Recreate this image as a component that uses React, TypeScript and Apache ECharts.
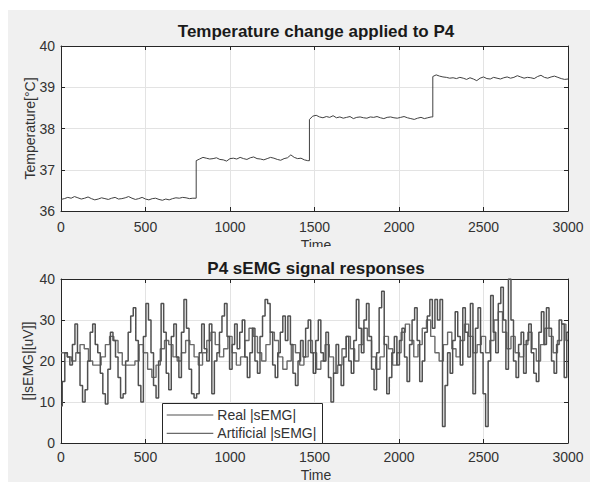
import React, { useEffect, useRef } from "react";
import * as echarts from "echarts";

// ---------- data ----------
const xTicks = [0, 500, 1000, 1500, 2000, 2500, 3000];
const tempTicks = [36, 37, 38, 39, 40];
const emgTicks = [0, 10, 20, 30, 40];

const TEMP_STEP = 20;
const tempSegmentStart = [0, 800, 1470, 2200];
const tempSeg1 = [
  36.28, 36.3, 36.33, 36.31, 36.35, 36.32, 36.29, 36.31, 36.34, 36.3,
  36.27, 36.29, 36.32, 36.3, 36.28, 36.31, 36.33, 36.29, 36.3, 36.32,
  36.35, 36.31, 36.28, 36.3, 36.33, 36.29, 36.27, 36.3, 36.31, 36.28,
  36.26, 36.29, 36.27, 36.3, 36.32, 36.31, 36.33, 36.32, 36.3, 36.31,
];
const tempSeg2 = [
  37.22, 37.26, 37.3, 37.28, 37.26, 37.27, 37.29, 37.25, 37.24, 37.21,
  37.27, 37.28, 37.26, 37.3, 37.27, 37.25, 37.29, 37.31, 37.27, 37.26,
  37.24, 37.27, 37.3, 37.28, 37.25, 37.23, 37.27, 37.29, 37.36, 37.3,
  37.27, 37.28, 37.24, 37.22,
];
const tempSeg3 = [
  38.22, 38.3, 38.32, 38.28, 38.26, 38.29, 38.27, 38.31, 38.26, 38.28,
  38.25, 38.27, 38.29, 38.24, 38.27, 38.28, 38.26, 38.25, 38.28, 38.27,
  38.29, 38.26, 38.24, 38.27, 38.28, 38.26, 38.25, 38.27, 38.29, 38.26,
  38.24, 38.22, 38.25, 38.27, 38.24, 38.26, 38.28,
];
const tempSeg4 = [
  39.26, 39.3, 39.27, 39.25, 39.24, 39.22, 39.23, 39.21, 39.24, 39.22,
  39.19, 39.23, 39.2, 39.16, 39.22, 39.25, 39.21, 39.2, 39.24, 39.22,
  39.2, 39.23, 39.25, 39.22, 39.24, 39.28, 39.25, 39.22, 39.24, 39.23,
  39.21, 39.26, 39.29, 39.24, 39.22, 39.25, 39.27, 39.24, 39.21, 39.19,
  39.2,
];
const tempSegments = [tempSeg1, tempSeg2, tempSeg3, tempSeg4];

const REAL_STEP = 15;
const realEmg = [
  9, 15, 22, 21, 19, 24, 29, 22, 14, 10,
  13, 20, 27, 29, 24, 22, 17, 12, 9.5, 18,
  27, 25, 21, 16, 11, 12, 20, 27, 31, 33,
  25, 14, 10, 26, 34, 30, 22, 14, 11, 20,
  34, 27, 17, 13, 26, 29, 21, 16, 27, 35,
  28, 18, 12, 11, 12, 22, 29, 23, 20, 29,
  12, 20, 22, 27, 31, 34, 26, 18, 24, 29,
  23, 27, 30, 21, 16, 22, 28, 20, 17, 26,
  31, 35, 34, 27, 19, 16, 22, 27, 31, 25,
  31, 24, 17, 14, 20, 25, 21, 28, 30, 22,
  17, 25, 30, 22, 20, 27, 16, 10, 17, 24,
  19, 14, 21, 26, 20, 17, 25, 35, 28, 22,
  30, 34, 26, 18, 13, 22, 33, 37, 24, 12,
  16, 22, 26, 19, 25, 28, 21, 15, 24, 30,
  33, 25, 15, 20, 27, 31, 35, 28, 35, 30,
  35, 4, 14, 22, 17, 25, 32, 26, 19, 33,
  27, 21, 34, 12, 28, 33, 22, 12, 4, 20,
  36, 27, 22, 34, 38, 30, 18, 40, 30, 20,
  16, 24, 27, 17, 25, 29, 22, 17, 15, 27,
  32, 24, 33, 28, 20, 17, 24, 30, 29, 16,
  27,
];

const ART_STEP = 25;
const artificialEmg = [
  22, 22, 21, 20, 22, 24, 23, 20, 19, 19,
  21, 24, 26, 25, 22, 19, 19, 19, 20, 24,
  22, 18, 16, 19, 23, 25, 24, 21, 20, 22,
  25, 24, 21, 19, 22, 25, 27, 24, 21, 23,
  26, 22, 19, 21, 25, 28, 26, 22, 20, 24,
  27, 25, 21, 18, 20, 24, 22, 19, 21, 25,
  22, 18, 20, 24, 21, 17, 19, 23, 26, 23,
  20, 24, 28, 25, 21, 18, 21, 26, 23, 19,
  22, 27, 29, 25, 21, 24, 28, 30, 26, 22,
  20, 24, 27, 23, 21, 25, 29, 26, 22, 24,
  26, 22, 25, 30, 32, 27, 23, 26, 22, 21,
  24, 27, 23, 20, 24, 28, 26, 22, 25, 29,
  25,
];

const legendNames = ["Real |sEMG|", "Artificial |sEMG|"];

// ---------- build ----------
function buildTemp(): [number, number][] {
  const out: [number, number][] = [];
  tempSegments.forEach((seg, k) => {
    const start = tempSegmentStart[k];
    seg.forEach((v, i) => out.push([start + i * TEMP_STEP, v]));
    if (k + 1 < tempSegments.length) {
      out.push([tempSegmentStart[k + 1], seg[seg.length - 1]]);
    }
  });
  return out;
}
const realData = realEmg.map((v, i) => [i * REAL_STEP, v]);
const artData = artificialEmg.map((v, i) => [i * ART_STEP, v]);

const FAMILY = "Liberation Sans";
const FONT = "'Liberation Sans', Arial, sans-serif";
const AX = "#262626";
const TXT = "#333333";
const GRIDC = "#e3e3e3";
const plain = (v: number) => String(v);

function xAxes(grid: number, labelMargin: number) {
  return [
    {
      type: "value",
      gridIndex: grid,
      position: "bottom",
      min: xTicks[0],
      max: xTicks[xTicks.length - 1],
      interval: 500,
      axisLine: { show: true, onZero: false, lineStyle: { color: AX, width: 1 } },
      axisTick: { show: true, inside: true, length: 4, lineStyle: { color: AX } },
      axisLabel: {
        color: TXT,
        fontSize: 14,
        lineHeight: 14,
        fontFamily: FAMILY,
        margin: labelMargin,
        formatter: plain,
      },
      splitLine: { show: true, lineStyle: { color: GRIDC, width: 1 } },
    },
    {
      type: "value",
      gridIndex: grid,
      position: "top",
      min: xTicks[0],
      max: xTicks[xTicks.length - 1],
      interval: 500,
      axisLine: { show: true, onZero: false, lineStyle: { color: AX, width: 1 } },
      axisTick: { show: true, inside: true, length: 4, lineStyle: { color: AX } },
      axisLabel: { show: false },
      splitLine: { show: false },
    },
  ];
}

function yAxes(grid: number, ticks: number[]) {
  const min = ticks[0];
  const max = ticks[ticks.length - 1];
  const interval = ticks[1] - ticks[0];
  return [
    {
      type: "value",
      gridIndex: grid,
      position: "left",
      min,
      max,
      interval,
      axisLine: { show: true, onZero: false, lineStyle: { color: AX, width: 1 } },
      axisTick: { show: true, inside: true, length: 4, lineStyle: { color: AX } },
      axisLabel: { color: TXT, fontSize: 14, fontFamily: FAMILY, margin: 6, formatter: plain },
      splitLine: { show: true, lineStyle: { color: GRIDC, width: 1 } },
    },
    {
      type: "value",
      gridIndex: grid,
      position: "right",
      min,
      max,
      interval,
      axisLine: { show: true, onZero: false, lineStyle: { color: AX, width: 1 } },
      axisTick: { show: true, inside: true, length: 4, lineStyle: { color: AX } },
      axisLabel: { show: false },
      splitLine: { show: false },
    },
  ];
}

export default function App() {
  const ref = useRef<HTMLDivElement>(null);
  useEffect(() => {
    document.body.style.margin = "0";
    document.body.style.background = "#ffffff";
    if (!ref.current) return;
    const chart = echarts.init(ref.current, null, { renderer: "svg" });
    const bg = "#f0f0f0";
    chart.setOption({
      animation: false,
      backgroundColor: bg,
      grid: [
        { left: 53, top: 36, width: 507, height: 165, show: true, backgroundColor: "#ffffff", borderWidth: 0 },
        { left: 53, top: 269, width: 507, height: 164, show: true, backgroundColor: "#ffffff", borderWidth: 0 },
      ],
      xAxis: [...xAxes(0, 9), ...xAxes(1, 7)],
      yAxis: [...yAxes(0, tempTicks), ...yAxes(1, emgTicks)],
      series: [
        {
          type: "line",
          name: "Temperature",
          xAxisIndex: 0,
          yAxisIndex: 0,
          data: buildTemp(),
          showSymbol: false,
          symbol: "none",
          lineStyle: { color: "#404040", width: 1 },
          z: 3,
        },
        {
          type: "line",
          name: legendNames[1],
          xAxisIndex: 2,
          yAxisIndex: 2,
          data: artData,
          showSymbol: false,
          symbol: "none",
          step: "middle",
          lineStyle: { color: "#6a6a6a", width: 1.4 },
          z: 3,
        },
        {
          type: "line",
          name: legendNames[0],
          xAxisIndex: 2,
          yAxisIndex: 2,
          data: realData,
          showSymbol: false,
          symbol: "none",
          step: "middle",
          lineStyle: { color: "#505050", width: 1.5 },
          z: 4,
        },
      ],
      graphic: [
        {
          type: "text",
          x: 308,
          y: 21,
          z: 50,
          style: {
            text: "Temperature change applied to P4",
            fill: "#1a1a1a",
            font: `bold 17px ${FONT}`,
            align: "center",
            verticalAlign: "middle",
          },
        },
        {
          type: "text",
          x: 308,
          y: 258,
          z: 50,
          style: {
            text: "P4 sEMG signal responses",
            fill: "#1a1a1a",
            font: `bold 17px ${FONT}`,
            align: "center",
            verticalAlign: "middle",
          },
        },
        {
          type: "text",
          x: 308,
          y: 228,
          z: 50,
          style: {
            text: "Time",
            fill: TXT,
            font: `14px ${FONT}`,
            align: "center",
            verticalAlign: "top",
          },
        },
        {
          type: "rect",
          z: 60,
          shape: { x: 280, y: 237, width: 60, height: 10 },
          style: { fill: bg },
        },
        {
          type: "text",
          x: 308,
          y: 458,
          z: 50,
          style: {
            text: "Time",
            fill: TXT,
            font: `14px ${FONT}`,
            lineHeight: 14,
            align: "center",
            verticalAlign: "top",
          },
        },
        {
          type: "text",
          x: 22,
          y: 118.5,
          rotation: Math.PI / 2,
          z: 50,
          style: {
            text: "Temperature[°C]",
            fill: TXT,
            font: `14px ${FONT}`,
            align: "center",
            verticalAlign: "middle",
          },
        },
        {
          type: "text",
          x: 20,
          y: 351,
          rotation: Math.PI / 2,
          z: 50,
          style: {
            text: "[|sEMG|[uV]]",
            fill: TXT,
            font: `14px ${FONT}`,
            align: "center",
            verticalAlign: "middle",
          },
        },
        {
          type: "rect",
          z: 70,
          shape: { x: 154.5, y: 393.5, width: 160, height: 40 },
          style: { fill: "#ffffff", stroke: AX, lineWidth: 1 },
        },
        {
          type: "line",
          z: 71,
          shape: { x1: 158.7, y1: 405, x2: 205.3, y2: 405 },
          style: { stroke: "#505050", lineWidth: 1.2 },
        },
        {
          type: "text",
          x: 209.3,
          y: 405,
          z: 71,
          style: {
            text: legendNames[0],
            fill: TXT,
            font: `14px ${FONT}`,
            align: "left",
            verticalAlign: "middle",
          },
        },
        {
          type: "line",
          z: 71,
          shape: { x1: 158.7, y1: 423.3, x2: 205.3, y2: 423.3 },
          style: { stroke: "#6a6a6a", lineWidth: 1.2 },
        },
        {
          type: "text",
          x: 209.3,
          y: 423.3,
          z: 71,
          style: {
            text: legendNames[1],
            fill: TXT,
            font: `14px ${FONT}`,
            align: "left",
            verticalAlign: "middle",
          },
        },
      ],
    });
    return () => chart.dispose();
  }, []);
  return (
    <div style={{ width: 590, height: 482, background: "#ffffff", overflow: "hidden" }}>
      <div
        ref={ref}
        style={{ marginLeft: 8, position: "relative", top: 10, width: 582, height: 472 }}
      />
    </div>
  );
}
